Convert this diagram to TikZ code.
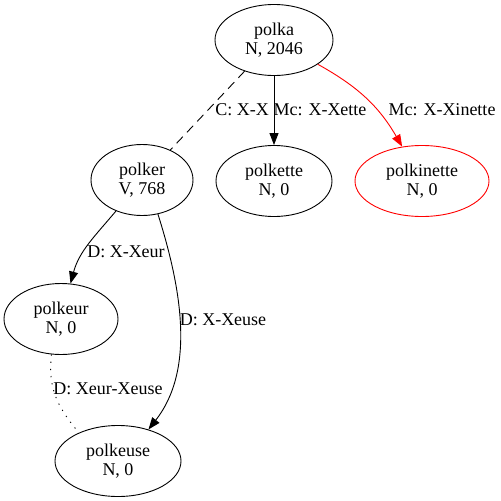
\documentclass[tikz,border=0pt]{standalone}
\usepackage{fontspec}
\setmainfont{Liberation Serif}
\usetikzlibrary{shapes.geometric,arrows.meta}
\begin{document}
\begin{tikzpicture}[x=1pt,y=1pt,line width=0.9pt,
  word/.style={ellipse,draw,inner sep=0pt,align=center,minimum height=71pt,
    font=\fontsize{18}{19.5}\selectfont},
  lbl/.style={inner sep=0pt,font=\fontsize{18}{20}\selectfont},
  tip/.style={-{Triangle[length=12pt,width=9pt]}}]
\useasboundingbox (0,0) rectangle (501,-501);
% words
\foreach \n/\x/\y/\w/\t/\c in {polka/274/40/118/{N, 2046}/black,
  polker/142/180/102/{V, 768}/black, polkette/274/181/116/{N, 0}/black,
  polkinette/422/181/134/{N, 0}/red, polkeur/61/319/114/{N, 0}/black,
  polkeuse/118/461/126/{N, 0}/black}
  \node [word,draw=\c,minimum width=\w pt] (\n) at (\x,-\y) {\n\\\t};
% links
\draw [dash pattern=on 9pt off 6pt] (polka) -- (polker);
\draw [tip] (polka) -- (polkette);
\draw [tip,red] (polka) to [out=-29,in=120] (polkinette);
\draw [tip] (polker) to [out=-130,in=75] (polkeur);
\draw [tip] (polker.-65) .. controls (182,-290) and (195,-370) .. (polkeuse.46);
\draw [dash pattern=on 1.2pt off 6pt] (polkeur.-105) .. controls (48,-385) and (55,-405) .. (polkeuse.144);
% link labels
\foreach \n/\x/\y/\t in {cxx/242/110/{C: X-X}, xette/320/110/{Mc: X-Xette},
  xinette/442/110/{Mc: X-Xinette}, xeur/126/252/{D: X-Xeur},
  xeuse/223/320/{D: X-Xeuse}, xeurxeuse/108/389/{D: Xeur-Xeuse}}
  \node [lbl] (\n) at (\x,-\y) {\t};
\end{tikzpicture}
\end{document}
